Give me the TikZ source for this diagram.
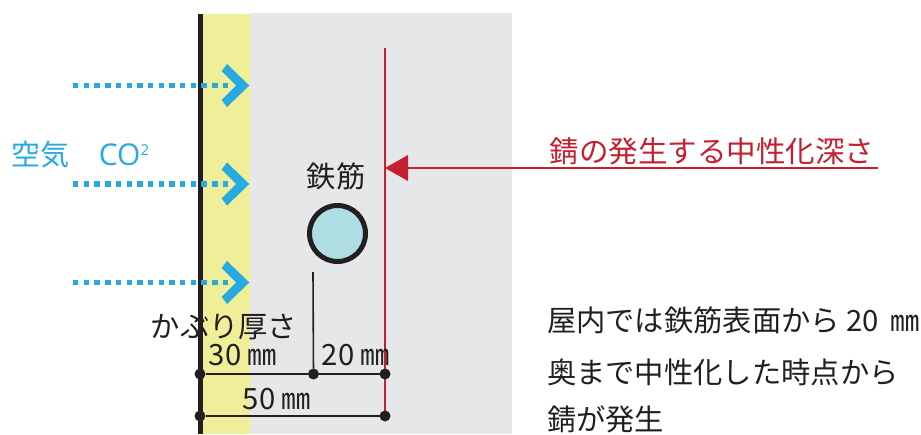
\documentclass[tikz,border=0pt]{standalone}
\usepackage{fontspec}
\setmainfont{Noto Sans CJK JP}
\newfontfamily\latn{Open Sans}
\definecolor{skyc}{HTML}{27AAE1}
\definecolor{redc}{HTML}{C4202F}
\definecolor{inkc}{HTML}{231F20}
\definecolor{grayc}{HTML}{E6E7E8}
\definecolor{yelc}{HTML}{EFEF99}
\definecolor{barc}{HTML}{AEDDE3}
\tikzset{
  every node/.style={inner sep=0pt,outer sep=0pt},
  lbl/.style={font=\fontsize{29.3}{29.3}\selectfont,text=inkc},
  skytxt/.style={font=\fontsize{29}{29}\selectfont,text=skyc},
  dimdot/.style={circle,fill=inkc,minimum size=11pt},
  dimline/.style={draw=inkc,line width=1.6pt},
  airflow/.style={draw=skyc,line width=5.2pt,dash pattern=on 5.4pt off 5.3pt},
  chev/.style={fill=skyc}
}
\newcommand{\chevat}[1]{\fill[chev] (249.3,#1) -- (227,#1-21.5) -- (221.7,#1-14.5) -- (236,#1) -- (221.7,#1+14.5) -- (227,#1+21.5) -- cycle;}
\begin{document}
\begin{tikzpicture}[x=1pt,y=-1pt]
\useasboundingbox (0,0) rectangle (921,434);
\fill[grayc] (250,13) rectangle (512,434);
\fill[yelc] (202,14) rectangle (250,434);
\fill[inkc] (197.5,13.5) rectangle (202.8,434);
\draw[airflow] (73,85.5) -- (230,85.5);
\draw[airflow] (73,184) -- (230,184);
\draw[airflow] (73,282.5) -- (230,282.5);
\chevat{85.5}\chevat{184}\chevat{282.5}
\node[skytxt,anchor=center] (air) at (40.5,155) {空気};
\node[anchor=center,text=skyc,font=\latn\fontsize{30}{30}\selectfont] (co) at (124,155) {CO\raisebox{10pt}{\fontsize{15}{15}\selectfont 2}};
\node[lbl] (bar) at (336,176) {鉄筋};
\node[circle,draw=inkc,fill=barc,line width=5pt,minimum size=56pt] (rebar) at (337.5,233.5) {};
% red
\coordinate (rtop) at (385,48);
\coordinate (rbot) at (385,416);
\draw[redc,line width=1.6pt] (rtop) -- (rbot);
\coordinate (atip) at (385,168);
\coordinate (aend) at (878,168);
\draw[redc,line width=2pt] (aend) -- (400,168);
\fill[redc] (atip) -- (408,155) -- (408,181) -- cycle;
\node[font=\fontsize{29.5}{29.5}\selectfont,text=redc] (rust) at (712,151) {錆の発生する中性化深さ};
% dims
\node[dimdot] (d1) at (200,374) {};
\node[dimdot] (d2) at (313.5,374) {};
\node[dimdot] (d3) at (385,374) {};
\node[dimdot] (d4) at (200,416) {};
\node[dimdot] (d5) at (385,416) {};
\coordinate (tick) at (313,272);
\draw[inkc,line width=1.6pt] (tick) -- (d2);
\draw[dimline] (d1) -- (d2);
\draw[dimline] (d2) -- (d3);
\draw[dimline] (d4) -- (d5);
\node[lbl] (cover) at (224,327) {かぶり厚さ};
\node[lbl] (t30) at (243,355) {30 ㎜};
\node[lbl] (t20) at (356,355) {20 ㎜};
\node[lbl] (t50) at (277,399) {50 ㎜};
\node[lbl,anchor=west] (n1) at (547,320) {屋内では鉄筋表面から 20\hspace{5pt} ㎜};
\node[lbl,anchor=west] (n2) at (547,372) {奥まで中性化した時点から};
\node[lbl,anchor=west] (n3) at (547,419.5) {錆が発生};
\end{tikzpicture}
\end{document}
